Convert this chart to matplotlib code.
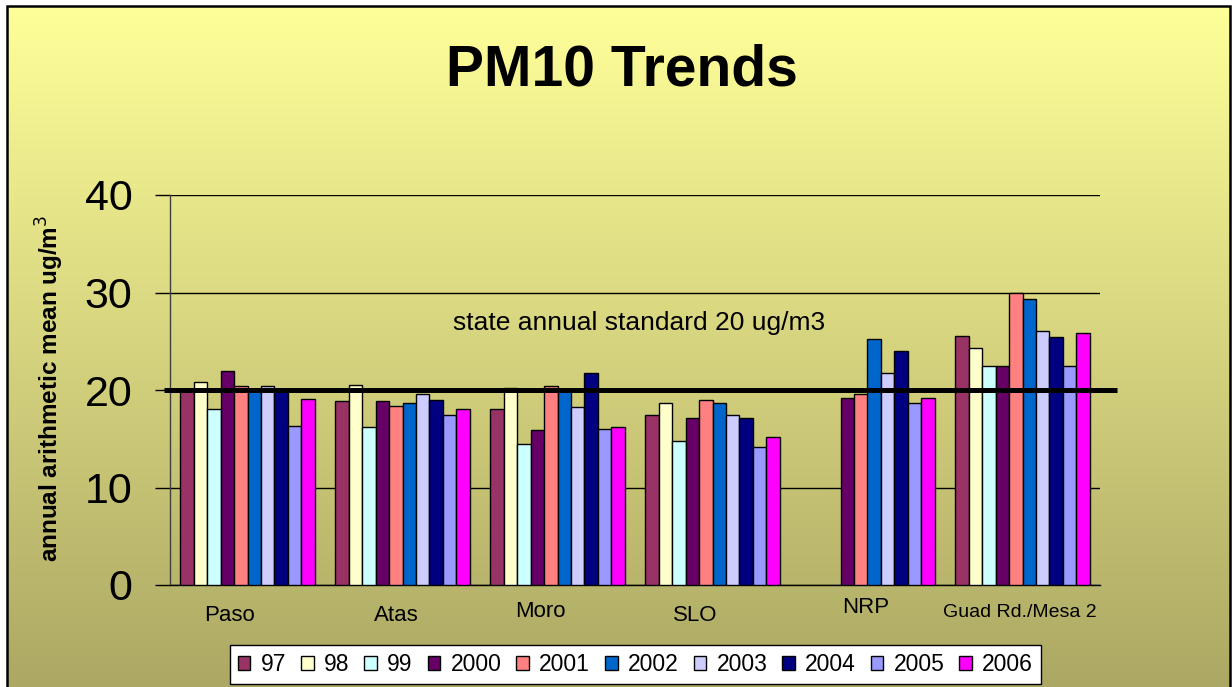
import numpy as np
import matplotlib
matplotlib.use("Agg")
import matplotlib.pyplot as plt
from matplotlib.patches import Patch, Rectangle

plt.rcParams['font.family'] = ['Liberation Sans', 'DejaVu Sans']

# ---------------- data ----------------
sites = ["Paso", "Atas", "Moro", "SLO", "NRP", "Guad Rd./Mesa 2"]
years = ["97", "98", "99", "2000", "2001", "2002", "2003", "2004", "2005", "2006"]
nan = np.nan
v97   = [20.0, 18.9, 18.1, 17.4, nan, 25.5]
v98   = [20.8, 20.5, 20.2, 18.7, nan, 24.3]
v99   = [18.1, 16.2, 14.5, 14.8, nan, 22.5]
v2000 = [22.0, 18.9, 15.9, 17.1, 19.2, 22.5]
v2001 = [20.4, 18.4, 20.4, 19.0, 19.6, 29.9]
v2002 = [20.1, 18.7, 20.0, 18.7, 25.2, 29.3]
v2003 = [20.4, 19.6, 18.3, 17.4, 21.7, 26.1]
v2004 = [20.0, 19.0, 21.7, 17.1, 24.0, 25.4]
v2005 = [16.3, 17.4, 16.0, 14.2, 18.7, 22.5]
v2006 = [19.1, 18.1, 16.2, 15.2, 19.2, 25.8]
series = [v97, v98, v99, v2000, v2001, v2002, v2003, v2004, v2005, v2006]
standard = 20
yticks = [0, 10, 20, 30, 40]

colors = ["#993366", "#FFFFCC", "#CCFFFF", "#660066", "#FF8080",
          "#0066CC", "#CCCCFF", "#000080", "#9999FF", "#FF00FF"]

# label placement (layout only)
label_dx = [-0.119, -0.042, -0.113, -0.113, -0.01, -0.016]
label_base_px = [621, 621, 617, 621, 613, 617]
label_size = [16, 16, 16, 16, 16, 14]

W, H = 1232, 687
fig = plt.figure(figsize=(W / 100, H / 100), dpi=100)
fig.patch.set_facecolor("white")

# gradient background inside frame
bg = fig.add_axes([7 / W, 0, (1230 - 7) / W, (H - 6) / H], zorder=-10)
n = 256
t = np.linspace(0, 1, n)[:, None]
top = np.array([255, 255, 153]) / 255
bot = np.array([172, 168, 100]) / 255
grad = top[None, None, :] * (1 - t[..., None]) + bot[None, None, :] * t[..., None]
grad = np.repeat(grad, 2, axis=1)
bg.imshow(grad, aspect="auto", extent=[0, 1, 0, 1])
bg.set_axis_off()
fig.patches.append(Rectangle((7 / W, -0.05), (1230 - 7) / W, 1.05 - 6 / H,
                             transform=fig.transFigure, fill=False,
                             edgecolor="black", linewidth=1.8, zorder=5))

ax = fig.add_axes([170 / W, 1 - 585 / H, 930 / W, 390 / H])
ax.patch.set_alpha(0)

x = np.arange(len(sites))
bw = 0.0865
for j, (vals, c, yr) in enumerate(zip(series, colors, years)):
    ax.bar(x + (j - 4.5) * bw, vals, width=bw, color=c, edgecolor="black",
           linewidth=1.0, label=yr, zorder=3)

ax.set_xlim(-0.5, len(sites) - 0.5)
ax.set_ylim(0, 40)
ax.set_yticks(yticks)
ax.set_yticklabels([str(v) for v in yticks], fontsize=31)
ax.tick_params(axis="y", length=11, width=1, pad=16, color="black")
ax.set_xticks([])
ax.yaxis.grid(True, color="black", linewidth=1, zorder=0)
ax.set_axisbelow(True)
for s in ["top", "right"]:
    ax.spines[s].set_visible(False)
ax.spines["left"].set_color("#404040")
ax.spines["left"].set_linewidth(1)
ax.spines["bottom"].set_color("black")
ax.spines["bottom"].set_linewidth(1)

# state standard line
ax.plot([-0.539, 5.61], [standard, standard], color="black", linewidth=3.6,
        zorder=5, clip_on=False, solid_capstyle="butt")
ax.text(2.526, 26.9, "state annual standard 20 ug/m3", fontsize=19,
        ha="center", va="center", zorder=6)

# category labels
for i, name in enumerate(sites):
    fig.text((170 + (i + label_dx[i] + 0.5) * 155) / W, 1 - label_base_px[i] / H,
             name, fontsize=label_size[i], ha="center", va="baseline")

fig.text(622 / W, 1 - 86 / H, "PM10 Trends", fontsize=41, fontweight="bold",
         ha="center", va="baseline")
fig.text(50 / W, 1 - 388 / H, "annual arithmetic mean ug/m$^3$", fontsize=17.5,
         fontweight="bold", rotation=90, ha="center", va="center")

handles = [Patch(facecolor=c, edgecolor="black", linewidth=1.0, label=y)
           for c, y in zip(colors, years)]
leg = fig.legend(handles=handles, loc="center", ncol=10,
                 bbox_to_anchor=(635.5 / W, 1 - 664.5 / H), fontsize=16.5,
                 handlelength=0.55, handleheight=0.55, handletextpad=0.45,
                 columnspacing=0.65, borderpad=0.35, fancybox=False,
                 framealpha=1, edgecolor="black")
leg.get_frame().set_linewidth(1.0)

fig.savefig("out.png", dpi=100)
